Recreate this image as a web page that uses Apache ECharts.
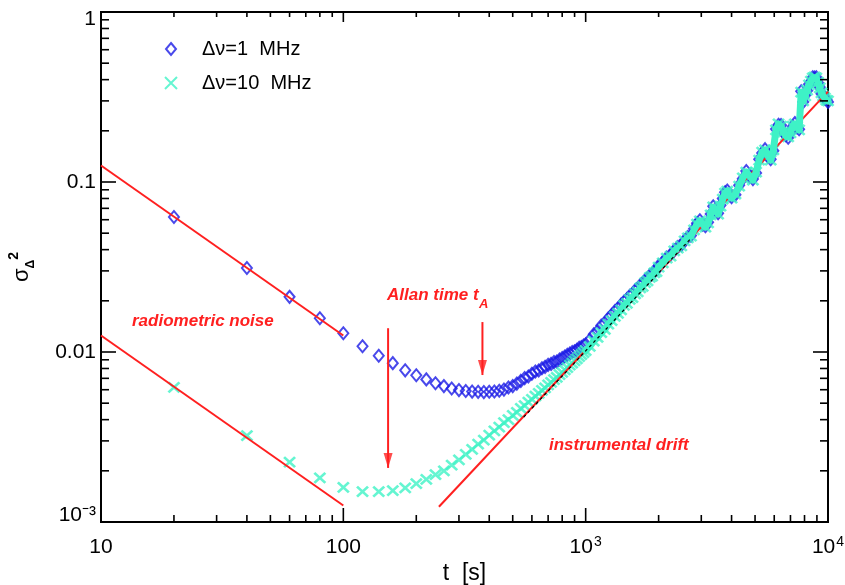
<!DOCTYPE html>
<html><head><meta charset="utf-8">
<script src="https://cdn.jsdelivr.net/npm/echarts@6/dist/echarts.min.js"></script>
<style>html,body{margin:0;padding:0;background:#fff}#c{width:845px;height:585px}</style>
</head><body><div id="c"></div>
<script>
// integration time t [s]
const tValues = [20,40,60,80,100,120,140,160,180,200,220,240,260,280,300,320,340,360,380,400,
420,440,460,480,500,520,540,560,580,600,620,640,660,680,700,720,740,760,780,800,
820,840,860,880,900,920,940,960,980,
1000,1040,1080,1120,1160,1200,1240,1280,1320,1360,1400,1440,1480,1520,1560,1600,1640,1680,1720,1760,1800,1840,1880,1920,1960,
2000,2080,2160,2240,2320,2400,2480,2560,2640,2720,2800,2880,2960,3040,3120,3200,3280,3360,3440,3520,3600,3680,3760,3840,3920,
4000,4150,4300,4450,4600,4750,4900,5050,5200,5350,5500,5650,5800,5950,6100,6250,6400,6550,6700,6850,
7000,7150,7300,7450,7600,7750,7900,8050,8200,8350,8500,8650,8800,8950,9100,9250,9400,9550,9700,9850,10000];
// Allan variance, delta nu = 1 MHz
const sigma1MHz = [0.0622,0.0312,0.0211,0.0158,0.0129,0.0108,0.0095,0.0086,0.0078,0.0073,
0.0069,0.00655,0.0063,0.0061,0.00597,0.0059,0.00585,0.00583,0.00581,0.00584,
0.00586,0.00592,0.00601,0.00618,0.0063,0.00652,0.00676,0.00702,0.00718,0.00745,
0.00768,0.00779,0.00802,0.00818,0.0084,0.00851,0.00872,0.0088,0.00902,0.00921,
0.0094,0.00962,0.00978,0.01,0.0101,0.0103,0.0106,0.0107,0.0109,
0.0111,0.0118,0.0127,0.0133,0.0143,0.0148,0.0158,0.0165,0.0174,0.018,0.019,0.0198,0.0205,0.0214,0.022,0.0231,0.0236,0.0248,0.0253,0.0265,0.027,0.0283,0.0287,0.0299,0.0304,
0.0322,0.0338,0.036,0.0373,0.0396,0.0414,0.0425,0.0454,0.0475,0.0484,0.053,0.0572,0.0595,0.056,0.055,0.058,0.0648,0.072,0.069,0.0655,0.073,0.08,0.087,0.0892,0.0835,
0.0815,0.0842,0.0958,0.1045,0.116,0.1075,0.104,0.113,0.136,0.148,0.156,0.141,0.136,0.1525,0.205,0.217,0.216,0.195,0.1885,0.182,
0.1965,0.211,0.222,0.209,0.2045,0.342,0.296,0.324,0.344,0.376,0.389,0.413,0.411,0.413,0.384,0.361,0.331,0.324,0.309,0.307,0.296];
// Allan variance, delta nu = 10 MHz
const sigma10MHz = [0.0062,0.00322,0.00225,0.00182,0.0016,0.00151,0.00151,0.00153,0.00159,0.00168,
0.00178,0.0019,0.002,0.00216,0.00232,0.0025,0.00267,0.00287,0.00303,0.00324,
0.00344,0.00361,0.00384,0.004,0.00424,0.00441,0.00466,0.00484,0.00508,0.00527,
0.00551,0.00571,0.00595,0.00616,0.0064,0.00662,0.00688,0.0071,0.00736,0.0076,
0.00786,0.0081,0.00836,0.00861,0.00888,0.00912,0.0094,0.00965,0.00992,
0.0102,0.0108,0.0116,0.0122,0.013,0.0136,0.0146,0.0153,0.0162,0.0169,0.0177,0.0188,0.0193,0.0204,0.0209,0.022,0.0226,0.0238,0.0243,0.0256,0.0262,0.0275,0.0279,0.0292,0.0297,
0.0316,0.0334,0.0357,0.0367,0.0393,0.0409,0.0421,0.045,0.0469,0.0481,0.0522,0.0566,0.059,0.0566,0.0543,0.0574,0.064,0.0713,0.0685,0.0648,0.0722,0.0794,0.0861,0.0885,0.0827,
0.0805,0.085,0.0947,0.1056,0.1145,0.1084,0.1027,0.1145,0.1346,0.15,0.1543,0.1422,0.1346,0.1543,0.2023,0.2195,0.2135,0.1968,0.1866,0.184,
0.1943,0.2135,0.2195,0.2108,0.2023,0.338,0.2996,0.3206,0.3475,0.3721,0.3926,0.4091,0.4147,0.4091,0.3874,0.3573,0.334,0.3206,0.312,0.3036,0.2996];
// fitted lines (endpoints)
const noiseFit1 = [[10,0.125],[100,0.0125]];
const noiseFit2 = [[10,0.0125],[100,0.00125]];
const driftFit = [[248,0.00123],[10000,0.34]];
const driftDash = [[555,0.00414],[2700,0.0461]];
// annotation arrows
const arrow1 = [[153,0.0138],[153,0.00208]];
const arrow2 = [[375,0.015],[375,0.00732]];
// ticks
const xMajor = [10,100,1000,10000];
const xMinor = [20,30,40,50,60,70,80,90,200,300,400,500,600,700,800,900,2000,3000,4000,5000,6000,7000,8000,9000];
const yMajor = [0.001,0.01,0.1,1];
const yMinor = [0.002,0.003,0.004,0.005,0.006,0.007,0.008,0.009,0.02,0.03,0.04,0.05,0.06,0.07,0.08,0.09,0.2,0.3,0.4,0.5,0.6,0.7,0.8,0.9];

const RED = '#ff2020', BLUE = '#1c1ce6', CYAN = '#3ef2c6';
const FONT = '"Liberation Sans", Arial, sans-serif';

const chart = echarts.init(document.getElementById('c'), null, {renderer:'canvas'});
const pair = ys => tValues.map((t,i)=>[t, ys[i]]);
const denseBand = pair(sigma10MHz).filter(p => p[0] >= 1000);

function xTickItem(params, api){
  const v = api.value(0), lb = api.value(2), lt = api.value(3);
  const pb = api.coord([v, 0.001]), pt = api.coord([v, 1]);
  const st = {stroke:'#000', lineWidth:1.6};
  return {type:'group', children:[
    {type:'line', shape:{x1:pb[0],y1:pb[1],x2:pb[0],y2:pb[1]-lb}, style:st},
    {type:'line', shape:{x1:pt[0],y1:pt[1],x2:pt[0],y2:pt[1]+lt}, style:st}
  ]};
}
function yTickItem(params, api){
  const v = api.value(1), ll = api.value(2), lr = api.value(3);
  const pl = api.coord([10, v]), pr = api.coord([10000, v]);
  const st = {stroke:'#000', lineWidth:1.6};
  return {type:'group', children:[
    {type:'line', shape:{x1:pl[0],y1:pl[1],x2:pl[0]+ll,y2:pl[1]}, style:st},
    {type:'line', shape:{x1:pr[0],y1:pr[1],x2:pr[0]-lr,y2:pr[1]}, style:st}
  ]};
}
const supRich = {
  b:{fontSize:21, fontFamily:FONT, color:'#000', lineHeight:24},
  s:{fontSize:14, fontFamily:FONT, color:'#000', verticalAlign:'top', lineHeight:24, padding:[0,0,0,1]},
  top:{fontSize:21, fontFamily:FONT, color:'#000', lineHeight:24, padding:[14,0,0,0]},
  lb:{fontSize:21, fontFamily:FONT, color:'#000', lineHeight:24, padding:[0,0,14,0]}
};
const arrowHead = 'path://M0,0L10,0L5,16Z';
const annot = (text, left, top, size) => ({type:'text', left, top,
  style:{text, fill:RED, fontSize:size, fontStyle:'italic', fontWeight:'bold', fontFamily:FONT}});

chart.setOption({
  animation:false,
  backgroundColor:'#fff',
  grid:{left:101, right:17, top:12, bottom:63, show:true, borderColor:'#000', borderWidth:2, backgroundColor:'transparent', outerBoundsMode:'none', containLabel:false},
  legend:{
    orient:'vertical', left:159, top:33, itemGap:12, itemWidth:16, itemHeight:12,
    textStyle:{fontSize:20, fontFamily:FONT, color:'#000', padding:[0,0,0,18], lineHeight:22},
    data:['Δν=1  MHz','Δν=10  MHz'], selectedMode:false
  },
  xAxis:{
    type:'log', logBase:10, min:10, max:10000,
    name:'t  [s]', nameLocation:'middle', nameGap:34,
    nameTextStyle:{fontSize:23, fontFamily:FONT, color:'#000'},
    axisLine:{show:false}, axisTick:{show:false}, splitLine:{show:false},
    axisLabel:{margin:13, color:'#000', rich:supRich,
      formatter:v=>{const e=Math.round(Math.log10(v)); return e===1?'{b|10}':e===2?'{b|100}':'{b|10}{s|'+e+'}';}}
  },
  yAxis:{
    type:'log', logBase:10, min:0.001, max:1,
    name:'{m|σ}{d|Δ}{u|2}', nameLocation:'middle', nameRotate:90, nameGap:64,
    nameTextStyle:{rich:{
      m:{fontSize:22, fontFamily:FONT, color:'#000', lineHeight:30},
      d:{fontSize:12, fontFamily:FONT, color:'#000', verticalAlign:'bottom', lineHeight:30, fontWeight:'bold'},
      u:{fontSize:14, fontFamily:FONT, color:'#000', verticalAlign:'top', lineHeight:30, fontWeight:'bold'}
    }},
    axisLine:{show:false}, axisTick:{show:false}, splitLine:{show:false},
    axisLabel:{margin:5, color:'#000', rich:supRich,
      formatter:v=>{const e=Math.round(Math.log10(v)); return e===-3?'{lb|10⁻³}':e===-2?'{b|0.01}':e===-1?'{b|0.1}':'{top|1}';}}
  },
  graphic:[
    annot('radiometric noise', 132, 313, 17),
    annot('Allan time t', 387, 287, 17),
    annot('A', 479, 298, 13),
    annot('instrumental drift', 549, 437, 17)
  ],
  series:[
    {type:'line', data:driftFit, symbol:'none', lineStyle:{color:RED, width:2}, silent:true},
    {type:'line', data:denseBand, symbol:'none', lineStyle:{color:CYAN, width:7, join:'round', cap:'round'}, silent:true},
    {name:'Δν=1  MHz', type:'scatter', data:pair(sigma1MHz),
      symbol:'path://M5,0L10,6L5,12L0,6Z', symbolSize:[10,12],
      itemStyle:{color:'rgba(255,255,255,0)', borderColor:BLUE, borderWidth:2}, emphasis:{disabled:true}},
    {name:'Δν=10  MHz', type:'scatter', data:pair(sigma10MHz),
      symbol:'path://M0,0L10,10M10,0L0,10', symbolSize:[11,10],
      itemStyle:{color:'rgba(255,255,255,0)', borderColor:CYAN, borderWidth:2.6}, emphasis:{disabled:true}},
    {type:'line', data:noiseFit1, symbol:'none', lineStyle:{color:RED, width:2}, silent:true},
    {type:'line', data:noiseFit2, symbol:'none', lineStyle:{color:RED, width:2}, silent:true},
    {type:'line', data:driftDash, symbol:'none', lineStyle:{color:'#000', width:1.2, type:[3,3]}, silent:true},
    {type:'line', data:arrow1, symbol:'none', lineStyle:{color:RED, width:2}, silent:true},
    {type:'line', data:arrow2, symbol:'none', lineStyle:{color:RED, width:2}, silent:true},
    {type:'scatter', data:[arrow1[1], arrow2[1]], symbol:arrowHead, symbolSize:[9,15], symbolOffset:[0,'-50%'],
      itemStyle:{color:RED}, silent:true},
    {type:'custom', renderItem:xTickItem, silent:true, z:10,
      data:[...xMajor.map(v=>[v,0.001,14,10]), ...xMinor.map(v=>[v,0.001,7,5])]},
    {type:'custom', renderItem:yTickItem, silent:true, z:10,
      data:[...yMajor.map(v=>[10,v,15,15]), ...yMinor.map(v=>[10,v,8,8])]}
  ]
});
</script></body></html>
